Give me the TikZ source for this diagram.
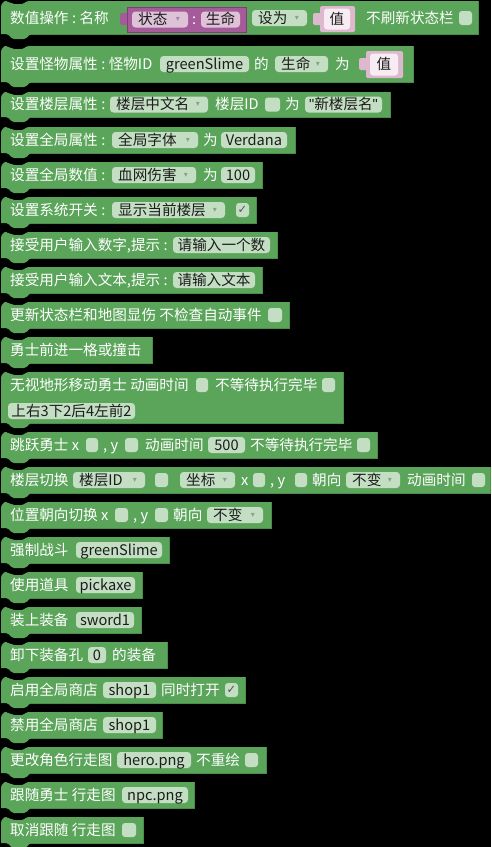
\documentclass[tikz,border=0pt]{standalone}
\usepackage{fontspec}
\setmainfont{Noto Sans CJK SC}
\newfontfamily\symf{DejaVu Sans}
\newfontfamily\latf{Liberation Sans}
\definecolor{bgc}{HTML}{000000}
\definecolor{blkc}{HTML}{5BA55B}
\definecolor{blkd}{HTML}{4B8E4B}
\definecolor{fldc}{HTML}{C3DEC3}
\definecolor{purc}{HTML}{A55B99}
\definecolor{purd}{HTML}{7E3F74}
\definecolor{pfldc}{HTML}{DDC2D8}
\definecolor{pinkc}{HTML}{DDB8CF}
\definecolor{pinkin}{HTML}{F8ECF3}
\definecolor{txtc}{HTML}{1C1C1C}
\newcommand\fsz{\fontsize{14.6}{17}\selectfont}
\newcommand\cln{\makebox[11pt]{:}}
\newcommand\qt{{\latf"}}
\newcounter{nn}
\newcommand\nid{n\arabic{nn}}
% block: top, bottom, right
\newcommand\blk[3]{%
  \fill[blkc] (1,#2) [rounded corners=6pt] -- (1,#1) -- (9,#1) [rounded corners=1.5pt] -- (13,#1+3) -- (23,#1+3) -- (27,#1) [sharp corners] -- (#3,#1) -- (#3,#2) [rounded corners=2pt] -- (30,#2) -- (26,#2+5) -- (12,#2+5) -- (8,#2) [sharp corners] -- cycle;
  \draw[blkd,line width=0.6pt] (#3,#1+0.3) -- (#3,#2) -- (30,#2);
}
% label: x, yc, text
\newcommand\lbl[3]{\stepcounter{nn}\node[lbl] (\nid) at (#1,#2+5) {#3};}
% field: [colour] x1, x2, yc, text
\newcommand\fld[5][fldc]{%
  \fill[#1,rounded corners=3.5pt] (#2,#4-8) rectangle (#3,#4+8);
  \stepcounter{nn}\node[ftxt,anchor=base] (\nid) at ({(#2+#3)/2},#4+5) {#5};}
\newcommand\ddf[5][fldc]{%
  \fill[#1,rounded corners=3.5pt] (#2,#4-8) rectangle (#3,#4+8);
  \stepcounter{nn}\node[ftxt,anchor=base west] (\nid) at (#2+6,#4+5) {#5};
  \stepcounter{nn}\node[arr,text=#1!72!black] (\nid) at (#3-10,#4) {▾};}
\newcommand\chk[3]{\fill[fldc,rounded corners=3pt] (#1,#3-7) rectangle (#2,#3+7);}
\newcommand\chkv[3]{\chk{#1}{#2}{#3}\stepcounter{nn}\node[ckm] (\nid) at ({(#1+#2)/2},#3) {✓};}
% value block: x1, x2, top, bottom, yc
\newcommand\val[5]{%
  \fill[pinkc,rounded corners=2pt] (#1-7,#5-6) rectangle (#1+2,#5+6);
  \fill[pinkc,rounded corners=1.5pt] (#1,#3) rectangle (#2,#4);
  \fill[pinkin,rounded corners=3pt] (#1+4,#3+2.5) rectangle (#2-5,#4-2.5);
  \stepcounter{nn}\node[ftxt,anchor=base] (\nid) at ({(#1+#2)/2-0.5},#5+5) {值};}
\begin{document}
\begin{tikzpicture}[x=1pt,y=-1pt,
  lbl/.style={anchor=base west,inner sep=0pt,text=white,font=\fsz},
  ftxt/.style={inner sep=0pt,text=txtc,font=\fsz},
  arr/.style={inner sep=0pt,font=\symf\fontsize{8}{9}\selectfont},
  ckm/.style={inner sep=0pt,text=txtc!75,font=\symf\fontsize{11.5}{13}\selectfont}]
\fill[bgc] (0,0) rectangle (491,847);
\useasboundingbox (0,0) rectangle (491,847);

% 1
\blk{1}{34}{478}
\lbl{10}{18}{数值操作\cln 名称}
\fill[purc,rounded corners=2pt] (120,13) rectangle (129,25);
\filldraw[fill=purc,draw=purd,line width=0.6pt] (127,7) rectangle (246,32);
\ddf[pfldc]{132}{188}{19.5}{状态}
\lbl{192}{19.5}{:}
\fld[pfldc]{201}{240}{19.5}{生命}
\ddf{252}{307}{18}{设为}
\val{320}{355}{6}{32}{19}
\lbl{366}{18}{不刷新状态栏}
\chk{459}{472}{18}

% 2
\blk{46}{82}{413}
\lbl{10}{64}{设置怪物属性\cln 怪物ID}
\fld{160}{249}{64}{greenSlime}
\lbl{254}{64}{的}
\ddf{275}{328}{64}{生命}
\lbl{335}{64}{为}
\val{366}{403}{51}{78}{64}

% 3
\blk{92}{117}{390}
\lbl{10}{104.5}{设置楼层属性\cln}
\ddf{110}{208}{104.5}{楼层中文名}
\lbl{215}{104.5}{楼层ID}
\chk{265}{280}{104.5}
\lbl{285}{104.5}{为}
\fld{305}{382}{104.5}{\qt 新楼层名\qt}

% 4
\blk{127}{153}{295}
\lbl{10}{140}{设置全局属性\cln}
\ddf{112}{198}{140}{全局字体}
\lbl{203}{140}{为}
\fld{221}{287}{140}{Verdana}

% 5
\blk{162}{188}{262}
\lbl{10}{175}{设置全局数值\cln}
\ddf{112}{196}{175}{血网伤害}
\lbl{203}{175}{为}
\fld{221}{255}{175}{100}

% 6
\blk{197}{223}{256}
\lbl{10}{210}{设置系统开关\cln}
\ddf{112}{225}{210}{显示当前楼层}
\chkv{236}{249}{210}

% 7
\blk{232}{258}{277}
\lbl{10}{245}{接受用户输入数字,提示\cln}
\fld{173}{270}{245}{请输入一个数}

% 8
\blk{267}{293}{262}
\lbl{10}{280}{接受用户输入文本,提示\cln}
\fld{173}{255}{280}{请输入文本}

% 9
\blk{302}{328}{289}
\lbl{10}{315}{更新状态栏和地图显伤 不检查自动事件}
\chk{268}{282}{315}

% 10
\blk{337}{363}{152}
\lbl{10}{350}{勇士前进一格或撞击}

% 11
\blk{372}{423}{343}
\lbl{10}{385}{无视地形移动勇士 动画时间}
\chk{196}{208}{385}
\lbl{215}{385}{不等待执行完毕}
\chk{322}{335}{385}
\fld{8}{135}{411}{上右3下2后4左前2}

% 12
\blk{432}{458}{377}
\lbl{10}{445}{跳跃勇士 x}
\chk{86}{98}{445}
\lbl{103}{445}{, y}
\chk{125}{138}{445}
\lbl{145}{445}{动画时间}
\fld{208}{245}{445}{500}
\lbl{250}{445}{不等待执行完毕}
\chk{357}{370}{445}

% 13
\blk{467}{493}{490}
\lbl{10}{480}{楼层切换}
\ddf{73}{145}{480}{楼层ID}
\chk{155}{168}{480}
\ddf{180}{235}{480}{坐标}
\lbl{241}{480}{x}
\chk{253}{265}{480}
\lbl{270}{480}{, y}
\chk{295}{307}{480}
\lbl{312}{480}{朝向}
\ddf{346}{400}{480}{不变}
\lbl{407}{480}{动画时间}
\chk{472}{485}{480}

% 14
\blk{502}{528}{271}
\lbl{10}{515}{位置朝向切换 x}
\chk{115}{128}{515}
\lbl{133}{515}{, y}
\chk{155}{168}{515}
\lbl{173}{515}{朝向}
\ddf{207}{263}{515}{不变}

% 15
\blk{537}{563}{169}
\lbl{10}{550}{强制战斗}
\fld{76}{162}{550}{greenSlime}

% 16
\blk{572}{598}{142}
\lbl{10}{585}{使用道具}
\fld{76}{135}{585}{pickaxe}

% 17
\blk{607}{633}{141}
\lbl{10}{620}{装上装备}
\fld{76}{134}{620}{sword1}

% 18
\blk{642}{668}{167}
\lbl{10}{655}{卸下装备孔}
\fld{88}{106}{655}{0}
\lbl{112}{655}{的装备}

% 19
\blk{677}{703}{245}
\lbl{10}{690}{启用全局商店}
\fld{103}{156}{690}{shop1}
\lbl{161}{690}{同时打开}
\chkv{225}{238}{690}

% 20
\blk{712}{738}{162}
\lbl{10}{725}{禁用全局商店}
\fld{103}{156}{725}{shop1}

% 21
\blk{747}{773}{266}
\lbl{10}{760}{更改角色行走图}
\fld{117}{191}{760}{hero.png}
\lbl{196}{760}{不重绘}
\chk{245}{258}{760}

% 22
\blk{782}{808}{194}
\lbl{10}{795}{跟随勇士 行走图}
\fld{122}{188}{795}{npc.png}

% 23
\blk{817}{843}{143}
\lbl{10}{830}{取消跟随 行走图}
\chk{122}{136}{830}
\end{tikzpicture}
\end{document}
